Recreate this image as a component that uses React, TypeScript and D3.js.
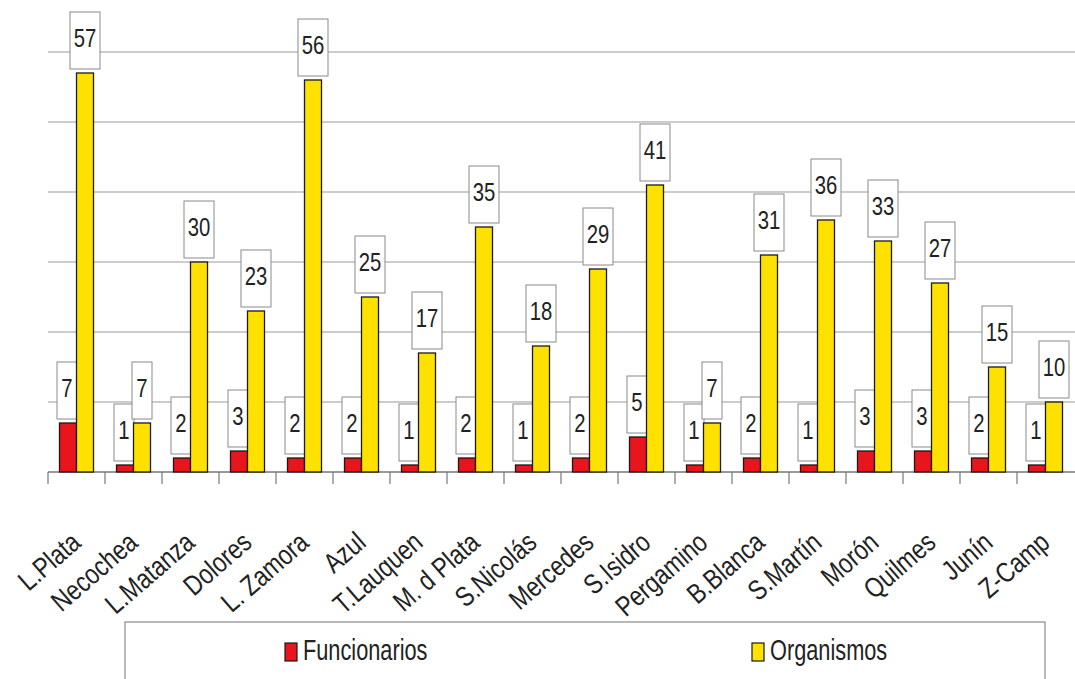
import React from "react";
import * as d3 from "d3";

const categories = ["L.Plata","Necochea","L.Matanza","Dolores","L. Zamora","Azul","T.Lauquen","M. d Plata","S.Nicolás","Mercedes","S.Isidro","Pergamino","B.Blanca","S.Martín","Morón","Quilmes","Junín","Z-Camp"];
const funcionarios = [7,1,2,3,2,2,1,2,1,2,5,1,2,1,3,3,2,1];
const organismos = [57,7,30,23,56,25,17,35,18,29,41,7,31,36,33,27,15,10];
const seriesNames = ["Funcionarios","Organismos"];
const seriesColors = ["#e8161c","#ffe100"];
const gridTicks = [10,20,30,40,50,60];

const W = 1075, H = 679;
const FONT = "'Liberation Sans', Arial, sans-serif";
const SX = 0.78;

export default function App() {
  const x = d3.scaleBand<string>().domain(categories).range([48, 48 + 57 * 18]).paddingInner(0).paddingOuter(0);
  const xs = d3.scaleBand<string>().domain(seriesNames).range([0, x.bandwidth()]).paddingInner(0).paddingOuter(0.676);
  const y = d3.scaleLinear().domain([0, 60]).range([472, 52]);
  const data = [funcionarios, organismos];

  const bars: any[] = [];
  const labels: any[] = [];
  categories.forEach((c, i) => {
    seriesNames.forEach((s, j) => {
      const v = data[j][i];
      const bx = (x(c) as number) + (xs(s) as number);
      const bw = xs.bandwidth();
      const top = y(v);
      bars.push(<rect key={`b${i}-${j}`} x={bx} y={top} width={bw} height={y(0) - top} fill={seriesColors[j]} stroke="#1a1a1a" strokeWidth={1.3} />);
      const txt = String(v);
      const boxW = txt.length > 1 ? 30 : 20;
      const boxH = 57;
      const cx = bx + bw / 2 - (j === 0 ? 1 : 0);
      const boxBottom = top - 4;
      labels.push(
        <g key={`l${i}-${j}`}>
          <rect x={cx - boxW / 2} y={boxBottom - boxH} width={boxW} height={boxH} fill="#ffffff" stroke="#8a8a8a" strokeWidth={1} />
          <text transform={`translate(${cx},${boxBottom - boxH / 2 + 6}) scale(${SX},1)`} textAnchor="middle" fontFamily={FONT} fontSize={26} fill="#222">{txt}</text>
        </g>
      );
    });
  });

  return (
    <svg width={W} height={H} style={{ position: "absolute", left: 0, top: 0, background: "#fff" }}>
      <rect x={0} y={0} width={W} height={H} fill="#ffffff" />
      {gridTicks.map((t) => (
        <line key={t} x1={48} x2={W} y1={y(t)} y2={y(t)} stroke="#9a9a9a" strokeWidth={1.2} />
      ))}
      <line x1={48} x2={W} y1={y(0)} y2={y(0)} stroke="#777" strokeWidth={1.3} />
      {categories.map((c, i) => (
        <line key={`t${i}`} x1={x(c) as number} x2={x(c) as number} y1={y(0)} y2={y(0) + 12} stroke="#777" strokeWidth={1.2} />
      ))}
      {labels}
      {bars}
      {categories.map((c, i) => {
        const cx = (x(c) as number) + x.bandwidth() / 2;
        return (
          <text key={`x${i}`} transform={`translate(${cx + 6},${545}) rotate(-41) scale(0.82,1)`} textAnchor="end" fontFamily={FONT} fontSize={28} fill="#222">{c}</text>
        );
      })}
      <rect x={125} y={622} width={920} height={80} fill="#fff" stroke="#8a8a8a" strokeWidth={1.2} />
      {seriesNames.map((s, j) => {
        const lx = j === 0 ? 285 : 752;
        return (
          <g key={s}>
            <rect x={lx} y={643} width={12} height={18} fill={seriesColors[j]} stroke="#1a1a1a" strokeWidth={1.2} />
            <text transform={`translate(${lx + 18},${660}) scale(0.75,1)`} fontFamily={FONT} fontSize={29} fill="#222">{s}</text>
          </g>
        );
      })}
    </svg>
  );
}
